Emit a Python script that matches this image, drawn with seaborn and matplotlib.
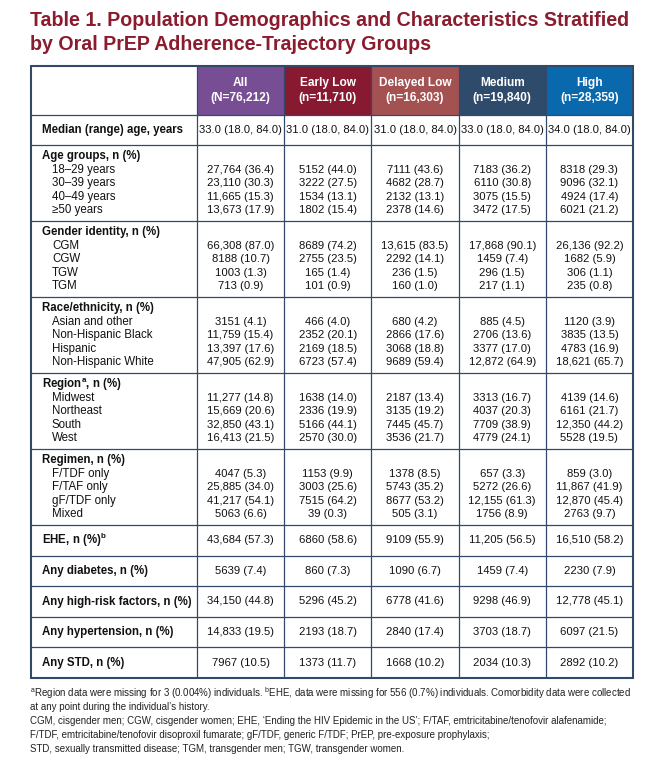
import matplotlib
matplotlib.use('Agg')
import matplotlib.pyplot as plt
import numpy as np
import seaborn as sns
from matplotlib import font_manager
from matplotlib.colors import ListedColormap

# --- data ---
title_lines = ['Table 1. Population Demographics and Characteristics Stratified',
               'by Oral PrEP Adherence-Trajectory Groups']

groups = ['All', 'Early Low', 'Delayed Low', 'Medium', 'High']
group_n = ['(N=76,212)', '(n=11,710)', '(n=16,303)', '(n=19,840)', '(n=28,359)']
group_colors = ['#774E94', '#871A31', '#A45152', '#2F4B6C', '#0A69AD']

median_label = 'Median (range) age, years'
median_age = ['33.0 (18.0, 84.0)', '31.0 (18.0, 84.0)', '31.0 (18.0, 84.0)',
              '33.0 (18.0, 84.0)', '34.0 (18.0, 84.0)']

age_groups = ['18–29 years', '30–39 years', '40–49 years', '≥50 years']
age_values = [
    ['27,764 (36.4)', '5152 (44.0)', '7111 (43.6)', '7183 (36.2)', '8318 (29.3)'],
    ['23,110 (30.3)', '3222 (27.5)', '4682 (28.7)', '6110 (30.8)', '9096 (32.1)'],
    ['11,665 (15.3)', '1534 (13.1)', '2132 (13.1)', '3075 (15.5)', '4924 (17.4)'],
    ['13,673 (17.9)', '1802 (15.4)', '2378 (14.6)', '3472 (17.5)', '6021 (21.2)'],
]

gender = ['CGM', 'CGW', 'TGW', 'TGM']
gender_values = [
    ['66,308 (87.0)', '8689 (74.2)', '13,615 (83.5)', '17,868 (90.1)', '26,136 (92.2)'],
    ['8188 (10.7)', '2755 (23.5)', '2292 (14.1)', '1459 (7.4)', '1682 (5.9)'],
    ['1003 (1.3)', '165 (1.4)', '236 (1.5)', '296 (1.5)', '306 (1.1)'],
    ['713 (0.9)', '101 (0.9)', '160 (1.0)', '217 (1.1)', '235 (0.8)'],
]

race = ['Asian and other', 'Non-Hispanic Black', 'Hispanic', 'Non-Hispanic White']
race_values = [
    ['3151 (4.1)', '466 (4.0)', '680 (4.2)', '885 (4.5)', '1120 (3.9)'],
    ['11,759 (15.4)', '2352 (20.1)', '2866 (17.6)', '2706 (13.6)', '3835 (13.5)'],
    ['13,397 (17.6)', '2169 (18.5)', '3068 (18.8)', '3377 (17.0)', '4783 (16.9)'],
    ['47,905 (62.9)', '6723 (57.4)', '9689 (59.4)', '12,872 (64.9)', '18,621 (65.7)'],
]

region = ['Midwest', 'Northeast', 'South', 'West']
region_values = [
    ['11,277 (14.8)', '1638 (14.0)', '2187 (13.4)', '3313 (16.7)', '4139 (14.6)'],
    ['15,669 (20.6)', '2336 (19.9)', '3135 (19.2)', '4037 (20.3)', '6161 (21.7)'],
    ['32,850 (43.1)', '5166 (44.1)', '7445 (45.7)', '7709 (38.9)', '12,350 (44.2)'],
    ['16,413 (21.5)', '2570 (30.0)', '3536 (21.7)', '4779 (24.1)', '5528 (19.5)'],
]

regimen = ['F/TDF only', 'F/TAF only', 'gF/TDF only', 'Mixed']
regimen_values = [
    ['4047 (5.3)', '1153 (9.9)', '1378 (8.5)', '657 (3.3)', '859 (3.0)'],
    ['25,885 (34.0)', '3003 (25.6)', '5743 (35.2)', '5272 (26.6)', '11,867 (41.9)'],
    ['41,217 (54.1)', '7515 (64.2)', '8677 (53.2)', '12,155 (61.3)', '12,870 (45.4)'],
    ['5063 (6.6)', '39 (0.3)', '505 (3.1)', '1756 (8.9)', '2763 (9.7)'],
]

section_headings = ['Age groups, n (%)', 'Gender identity, n (%)', 'Race/ethnicity, n (%)',
                    r'Region$^{\mathbf{a}}$, n (%)', 'Regimen, n (%)']
sections = [(age_groups, age_values), (gender, gender_values), (race, race_values),
            (region, region_values), (regimen, regimen_values)]

single_labels = [r'EHE, n (%)$^{\mathbf{b}}$', 'Any diabetes, n (%)',
                 'Any high-risk factors, n (%)', 'Any hypertension, n (%)', 'Any STD, n (%)']
single_values = [
    ['43,684 (57.3)', '6860 (58.6)', '9109 (55.9)', '11,205 (56.5)', '16,510 (58.2)'],
    ['5639 (7.4)', '860 (7.3)', '1090 (6.7)', '1459 (7.4)', '2230 (7.9)'],
    ['34,150 (44.8)', '5296 (45.2)', '6778 (41.6)', '9298 (46.9)', '12,778 (45.1)'],
    ['14,833 (19.5)', '2193 (18.7)', '2840 (17.4)', '3703 (18.7)', '6097 (21.5)'],
    ['7967 (10.5)', '1373 (11.7)', '1668 (10.2)', '2034 (10.3)', '2892 (10.2)'],
]

footnotes = [
    r'$^{\mathrm{a}}$Region data were missing for 3 (0.004%) individuals. $^{\mathrm{b}}$EHE, '
    r'data were missing for 556 (0.7%) individuals. Comorbidity data were collected',
    'at any point during the individual’s history.',
    'CGM, cisgender men; CGW, cisgender women; EHE, ‘Ending the HIV Epidemic in the US’; '
    'F/TAF, emtricitabine/tenofovir alafenamide;',
    'F/TDF, emtricitabine/tenofovir disoproxil fumarate; gF/TDF, generic F/TDF; '
    'PrEP, pre-exposure prophylaxis;',
    'STD, sexually transmitted disease; TGM, transgender men; TGW, transgender women.',
]

# --- style ---
sns.set_theme(style='white')
plt.rcParams['font.family'] = ['Liberation Sans', 'DejaVu Sans']
plt.rcParams['mathtext.fontset'] = 'custom'
plt.rcParams['mathtext.rm'] = 'Liberation Sans'
plt.rcParams['mathtext.bf'] = 'Liberation Sans:bold'

installed = {f.name for f in font_manager.fontManager.ttflist}
NARROW = 'Liberation Sans Narrow' if 'Liberation Sans Narrow' in installed else 'Liberation Sans'

TITLE_RED = '#8A1C2E'
GRID = '#33496A'
TXT = '#111111'
FS_LAB = 8.3   # bold row labels
FS_VAL = 8.1   # cell values

# layout in pixels (figure is 667x759 at dpi 100)
W, H = 667, 759
X0, XL, X_END = 31, 197, 633
col_edges = np.linspace(XL, X_END, len(groups) + 1)
col_mid = (col_edges[:-1] + col_edges[1:]) / 2
TOP, HDR, MED, SEC, ONE = 66, 49, 30, 76, 30.6

fig = plt.figure(figsize=(W / 100, H / 100), dpi=100)

# coloured header band
hax = fig.add_axes([XL / W, 1 - (TOP + HDR) / H, (X_END - XL) / W, HDR / H])
sns.heatmap(np.arange(len(groups))[None, :], cmap=ListedColormap(group_colors),
            cbar=False, ax=hax, xticklabels=False, yticklabels=False)
hax.set_axis_off()

ax = fig.add_axes([0, 0, 1, 1])
ax.set_xlim(0, W)
ax.set_ylim(H, 0)
ax.axis('off')

renderer = fig.canvas.get_renderer()


def fit_width(t, width):
    bb = t.get_window_extent(renderer)
    t.set_fontsize(t.get_fontsize() * width / bb.width)
    return t.get_fontsize()


# title
t1 = ax.text(30, 21, title_lines[0], family=NARROW, fontweight='bold', color=TITLE_RED,
             fontsize=15, ha='left', va='center')
tfs = fit_width(t1, 603)
ax.text(30, 44, title_lines[1], family=NARROW, fontweight='bold', color=TITLE_RED,
        fontsize=tfs, ha='left', va='center')

# header labels
for cx, g, n in zip(col_mid, groups, group_n):
    ax.text(cx, 83, g, color='white', fontweight='bold', fontsize=8.6, ha='center', va='center')
    ax.text(cx, 98, n, color='white', fontweight='bold', fontsize=8.6, ha='center', va='center')

y = TOP + HDR
row_lines = [TOP, y]

ax.text(42, y + MED / 2, median_label, fontweight='bold', fontsize=FS_LAB, color=TXT, va='center')
for cx, v in zip(col_mid, median_age):
    ax.text(cx, y + MED / 2, v, fontsize=FS_VAL, color=TXT, ha='center', va='center')
y += MED
row_lines.append(y)

for head, (items, vals) in zip(section_headings, sections):
    ax.text(42, y + 11.5, head, fontweight='bold', fontsize=FS_LAB, color=TXT, va='center')
    for k, (item, row) in enumerate(zip(items, vals)):
        yy = y + 25 + k * 13.3
        ax.text(52, yy, item, fontsize=FS_LAB, color=TXT, va='center')
        for cx, v in zip(col_mid, row):
            ax.text(cx, yy, v, fontsize=FS_VAL, color=TXT, ha='center', va='center')
    y += SEC
    row_lines.append(y)

for lab, row in zip(single_labels, single_values):
    ax.text(42, y + ONE / 2, lab, fontweight='bold', fontsize=FS_LAB, color=TXT, va='center')
    for cx, v in zip(col_mid, row):
        ax.text(cx, y + ONE / 2, v, fontsize=FS_VAL, color=TXT, ha='center', va='center')
    y += ONE
    row_lines.append(y)

# grid
for yl in row_lines[1:-1]:
    ax.plot([X0, X_END], [yl, yl], color=GRID, lw=0.9, solid_capstyle='butt')
for xl in col_edges[:-1]:
    ax.plot([xl, xl], [TOP, row_lines[-1]], color=GRID, lw=0.9, solid_capstyle='butt')
ax.plot([X0, X_END, X_END, X0, X0], [TOP, TOP, row_lines[-1], row_lines[-1], TOP],
        color=GRID, lw=1.5, solid_joinstyle='miter')

# footnotes
f1 = ax.text(30, 693, footnotes[0], family=NARROW, fontsize=7.5, color='#222222',
             ha='left', va='center')
ffs = fit_width(f1, 602)
for k, line in enumerate(footnotes[1:], start=1):
    ax.text(30, 693 + k * 14, line, family=NARROW, fontsize=ffs, color='#222222',
            ha='left', va='center')

fig.savefig('out.png', dpi=100)
